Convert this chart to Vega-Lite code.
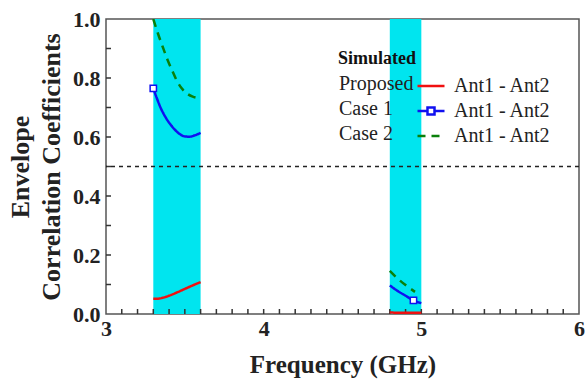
{
  "$schema": "https://vega.github.io/schema/vega-lite/v6.json",
  "width": 473,
  "height": 295,
  "autosize": {"type": "none"},
  "padding": {"left": 106, "top": 19, "right": 6, "bottom": 66},
  "background": "white",
  "config": {
    "view": {"stroke": "#555", "strokeWidth": 1.5},
    "font": "Liberation Serif",
    "axis": {
      "grid": false,
      "ticks": false,
      "domain": false,
      "labelFont": "Liberation Serif",
      "labelFontWeight": "bold",
      "labelFontSize": 22,
      "labelColor": "#222",
      "labelOverlap": false,
      "labelFlush": false,
      "titleFont": "Liberation Serif",
      "titleFontWeight": "bold",
      "titleFontSize": 25,
      "titleColor": "#222"
    },
    "axisX": {
      "labelExpr": "abs(datum.value - round(datum.value)) < 0.001 ? format(datum.value,'d') : ''",
      "labelOverlap": false,
      "labelPadding": 4,
      "titlePadding": 13
    },
    "axisY": {
      "labelExpr": "round(datum.value*10)%2==0 ? format(datum.value,'.1f') : ''",
      "labelOverlap": false,
      "labelPadding": 6,
      "titlePadding": 8,
      "titleFontSize": 26,
      "titleLineHeight": 31
    }
  },
  "datasets": {
    "bands": [
      {"start": 3.3, "end": 3.6},
      {"start": 4.8, "end": 5.0}
    ],
    "threshold": [
      {"v": 0.5}
    ],
    "xticks": [
      {"f": 3.1}, {"f": 3.2}, {"f": 3.3}, {"f": 3.4}, {"f": 3.5}, {"f": 3.6}, {"f": 3.7}, {"f": 3.8}, {"f": 3.9}, {"f": 4.0},
      {"f": 4.1}, {"f": 4.2}, {"f": 4.3}, {"f": 4.4}, {"f": 4.5}, {"f": 4.6}, {"f": 4.7}, {"f": 4.8}, {"f": 4.9}, {"f": 5.0},
      {"f": 5.1}, {"f": 5.2}, {"f": 5.3}, {"f": 5.4}, {"f": 5.5}, {"f": 5.6}, {"f": 5.7}, {"f": 5.8}, {"f": 5.9}
    ],
    "yticks": [
      {"v": 0.1}, {"v": 0.2}, {"v": 0.3}, {"v": 0.4}, {"v": 0.5}, {"v": 0.6}, {"v": 0.7}, {"v": 0.8}, {"v": 0.9}
    ],
    "curves": [
      {"f": 3.30, "v": 0.052, "case": "Proposed", "band": 1},
      {"f": 3.33, "v": 0.052, "case": "Proposed", "band": 1},
      {"f": 3.36, "v": 0.055, "case": "Proposed", "band": 1},
      {"f": 3.40, "v": 0.062, "case": "Proposed", "band": 1},
      {"f": 3.45, "v": 0.073, "case": "Proposed", "band": 1},
      {"f": 3.50, "v": 0.085, "case": "Proposed", "band": 1},
      {"f": 3.55, "v": 0.097, "case": "Proposed", "band": 1},
      {"f": 3.60, "v": 0.108, "case": "Proposed", "band": 1},
      {"f": 4.80, "v": 0.005, "case": "Proposed", "band": 2},
      {"f": 4.90, "v": 0.004, "case": "Proposed", "band": 2},
      {"f": 5.00, "v": 0.004, "case": "Proposed", "band": 2},
      {"f": 3.30, "v": 0.765, "case": "Case 1", "band": 1},
      {"f": 3.32, "v": 0.735, "case": "Case 1", "band": 1},
      {"f": 3.35, "v": 0.695, "case": "Case 1", "band": 1},
      {"f": 3.38, "v": 0.665, "case": "Case 1", "band": 1},
      {"f": 3.42, "v": 0.635, "case": "Case 1", "band": 1},
      {"f": 3.46, "v": 0.613, "case": "Case 1", "band": 1},
      {"f": 3.50, "v": 0.602, "case": "Case 1", "band": 1},
      {"f": 3.53, "v": 0.601, "case": "Case 1", "band": 1},
      {"f": 3.56, "v": 0.605, "case": "Case 1", "band": 1},
      {"f": 3.60, "v": 0.614, "case": "Case 1", "band": 1},
      {"f": 4.80, "v": 0.097, "case": "Case 1", "band": 2},
      {"f": 4.85, "v": 0.078, "case": "Case 1", "band": 2},
      {"f": 4.90, "v": 0.062, "case": "Case 1", "band": 2},
      {"f": 4.95, "v": 0.046, "case": "Case 1", "band": 2},
      {"f": 5.00, "v": 0.037, "case": "Case 1", "band": 2},
      {"f": 3.30, "v": 1.0, "case": "Case 2", "band": 1},
      {"f": 3.33, "v": 0.95, "case": "Case 2", "band": 1},
      {"f": 3.36, "v": 0.905, "case": "Case 2", "band": 1},
      {"f": 3.39, "v": 0.862, "case": "Case 2", "band": 1},
      {"f": 3.42, "v": 0.825, "case": "Case 2", "band": 1},
      {"f": 3.45, "v": 0.79, "case": "Case 2", "band": 1},
      {"f": 3.48, "v": 0.765, "case": "Case 2", "band": 1},
      {"f": 3.52, "v": 0.745, "case": "Case 2", "band": 1},
      {"f": 3.55, "v": 0.737, "case": "Case 2", "band": 1},
      {"f": 3.575, "v": 0.733, "case": "Case 2", "band": 1},
      {"f": 4.80, "v": 0.146, "case": "Case 2", "band": 2},
      {"f": 4.85, "v": 0.12, "case": "Case 2", "band": 2},
      {"f": 4.90, "v": 0.098, "case": "Case 2", "band": 2},
      {"f": 4.96, "v": 0.075, "case": "Case 2", "band": 2}
    ],
    "markers": [
      {"f": 3.30, "v": 0.765},
      {"f": 4.95, "v": 0.046}
    ],
    "names": [
      {"name": "Proposed"},
      {"name": "Case 1"},
      {"name": "Case 2"}
    ]
  },
  "layer": [
    {
      "data": {"name": "bands"},
      "mark": {"type": "rect", "color": "#00e5ef"},
      "encoding": {
        "x": {
          "field": "start", "type": "quantitative",
          "scale": {"domain": [3, 6], "nice": false, "zero": false},
          "title": "Frequency (GHz)"
        },
        "x2": {"field": "end"}
      }
    },
    {
      "data": {"name": "xticks"},
      "mark": {"type": "tick", "orient": "vertical", "size": 10, "thickness": 1.5, "color": "#333", "opacity": 1, "clip": true},
      "encoding": {
        "x": {"field": "f", "type": "quantitative", "title": "Frequency (GHz)"},
        "y": {"datum": 0, "type": "quantitative", "title": ["Envelope", "Correlation Coefficients"]}
      }
    },
    {
      "data": {"name": "yticks"},
      "mark": {"type": "tick", "orient": "horizontal", "size": 10, "thickness": 1.5, "color": "#333", "opacity": 1, "clip": true},
      "encoding": {
        "x": {"datum": 3, "type": "quantitative", "title": "Frequency (GHz)"},
        "y": {"field": "v", "type": "quantitative", "title": ["Envelope", "Correlation Coefficients"]}
      }
    },
    {
      "data": {"name": "threshold"},
      "mark": {"type": "rule", "strokeDash": [4, 4], "color": "#222", "strokeWidth": 1.5},
      "encoding": {
        "y": {"field": "v", "type": "quantitative", "title": ["Envelope", "Correlation Coefficients"]}
      }
    },
    {
      "data": {"name": "curves"},
      "mark": {"type": "line", "strokeWidth": 2.5, "interpolate": "monotone", "clip": true},
      "encoding": {
        "x": {"field": "f", "type": "quantitative", "title": "Frequency (GHz)"},
        "y": {
          "field": "v", "type": "quantitative",
          "scale": {"domain": [0, 1], "nice": false},
          "title": ["Envelope", "Correlation Coefficients"]
        },
        "detail": {"field": "band"},
        "color": {
          "field": "case", "type": "nominal",
          "scale": {"domain": ["Proposed", "Case 1", "Case 2"], "range": ["#f01010", "#1010f0", "#0a800a"]},
          "legend": {
            "title": null,
            "orient": "none",
            "legendX": 310,
            "legendY": 52,
            "padding": 0,
            "symbolType": "stroke",
            "symbolSize": 729,
            "symbolStrokeWidth": 2.5,
            "labelExpr": "'Ant1 - Ant2'",
            "labelOffset": 8,
            "labelFont": "Liberation Serif",
            "labelFontSize": 20,
            "labelColor": "#222",
            "rowPadding": -4,
            "encode": {
              "symbols": {
                "update": {
                  "shape": {"signal": "datum.value == 'Case 1' ? 'M-1,0H-0.26M0.26,0H1M-0.26,-0.26H0.26V0.26H-0.26Z' : 'stroke'"}
                }
              }
            }
          }
        },
        "strokeDash": {
          "field": "case", "type": "nominal",
          "scale": {"domain": ["Proposed", "Case 1", "Case 2"], "range": [[1, 0], [1, 0], [8, 6]]},
          "legend": {
            "title": null,
            "orient": "none",
            "legendX": 310,
            "legendY": 52
          }
        }
      }
    },
    {
      "data": {"name": "markers"},
      "mark": {"type": "point", "shape": "square", "filled": true, "fill": "white", "stroke": "#1010f0", "strokeWidth": 1.5, "size": 40, "opacity": 1},
      "encoding": {
        "x": {"field": "f", "type": "quantitative", "title": "Frequency (GHz)"},
        "y": {"field": "v", "type": "quantitative", "title": ["Envelope", "Correlation Coefficients"]}
      }
    },
    {
      "data": {"name": "names"},
      "mark": {"type": "point", "opacity": 0},
      "encoding": {
        "shape": {
          "field": "name", "type": "nominal", "sort": null,
          "legend": {
            "title": "Simulated",
            "orient": "none",
            "legendX": 232,
            "legendY": 31,
            "padding": 0,
            "titleFont": "Liberation Serif",
            "titleFontSize": 18,
            "titleFontWeight": "bold",
            "titleColor": "#111",
            "titlePadding": 6,
            "symbolSize": 1,
            "symbolOpacity": 0,
            "symbolStrokeWidth": 0.01,
            "labelOffset": -19,
            "labelFont": "Liberation Serif",
            "labelFontSize": 20,
            "labelColor": "#222",
            "rowPadding": 5
          }
        }
      }
    }
  ]
}
